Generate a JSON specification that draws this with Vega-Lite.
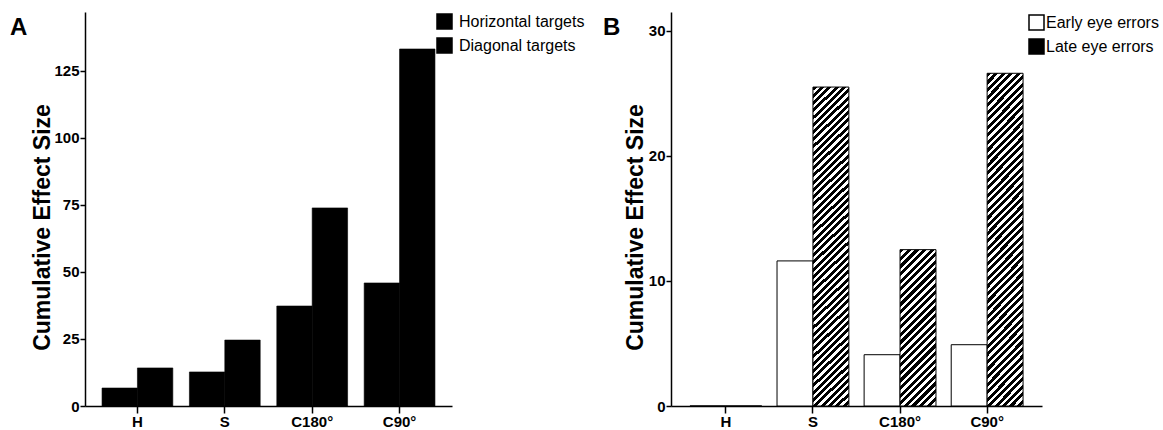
{
  "$schema": "https://vega.github.io/schema/vega-lite/v6.json",
  "padding": {"left": 10, "top": 12, "right": 0, "bottom": 0},
  "bounds": "flush",
  "spacing": 219,
  "resolve": {
    "scale": {"xOffset": "independent", "x": "independent", "y": "independent", "color": "independent", "fill": "independent"},
    "legend": {"color": "independent", "fill": "independent"}
  },
  "config": {
    "view": {"stroke": null},
    "font": "Liberation Sans",
    "axis": {
      "grid": false,
      "domainColor": "#000",
      "domainWidth": 1.5,
      "tickColor": "#000",
      "tickWidth": 1.5,
      "labelColor": "#000",
      "labelFont": "Liberation Sans",
      "labelFontWeight": "bold",
      "labelFontSize": 15,
      "titleColor": "#000",
      "titleFont": "Liberation Sans",
      "titleFontWeight": "bold",
      "titleFontSize": 23
    },
    "legend": {
      "labelFont": "Liberation Sans",
      "labelFontSize": 16,
      "labelColor": "#000",
      "symbolType": "square",
      "symbolSize": 225,
      "padding": 0,
      "rowPadding": 3
    },
    "title": {
      "font": "Liberation Sans",
      "fontSize": 24,
      "fontWeight": "bold",
      "color": "#000",
      "anchor": "start",
      "frame": "group",
      "orient": "top",
      "baseline": "top",
      "offset": -28
    }
  },
  "hconcat": [
    {
      "width": 367,
      "height": 394,
      "title": {"text": "A", "dx": -75},
      "data": {
        "values": [
          {"condition": "H", "target": "Horizontal targets", "value": 6.7},
          {"condition": "H", "target": "Diagonal targets", "value": 14.2},
          {"condition": "S", "target": "Horizontal targets", "value": 12.7},
          {"condition": "S", "target": "Diagonal targets", "value": 24.6},
          {"condition": "C180°", "target": "Horizontal targets", "value": 37.3},
          {"condition": "C180°", "target": "Diagonal targets", "value": 73.9},
          {"condition": "C90°", "target": "Horizontal targets", "value": 45.9},
          {"condition": "C90°", "target": "Diagonal targets", "value": 133.2}
        ]
      },
      "mark": {"type": "bar", "width": {"band": 1}, "stroke": "#000", "strokeWidth": 0.6},
      "encoding": {
        "x": {
          "field": "condition",
          "type": "nominal",
          "sort": ["H", "S", "C180°", "C90°"],
          "scale": {"paddingInner": 0.19, "paddingOuter": 0.195},
          "axis": {"title": null, "labelAngle": 0, "tickSize": 7, "labelPadding": 1}
        },
        "xOffset": {
          "field": "target",
          "type": "nominal",
          "sort": ["Horizontal targets", "Diagonal targets"],
          "scale": {"paddingInner": 0, "paddingOuter": 0}
        },
        "y": {
          "field": "value",
          "type": "quantitative",
          "scale": {"domain": [0, 147], "nice": false},
          "axis": {
            "title": "Cumulative Effect Size",
            "values": [0, 25, 50, 75, 100, 125],
            "tickSize": 5,
            "labelPadding": 1,
            "titlePadding": -1,
            "titleY": 215
          }
        },
        "color": {
          "field": "target",
          "type": "nominal",
          "sort": ["Horizontal targets", "Diagonal targets"],
          "scale": {"range": ["#000", "#000"]},
          "legend": {
            "title": null,
            "orient": "none",
            "legendX": 351,
            "legendY": 1,
            "labelOffset": 6,
            "encode": {
              "symbols": {
                "fill": {"value": "#000"},
                "stroke": {"condition": {"test": "datum.label === 'Horizontal targets'", "value": "#999"}, "value": "#000"},
                "strokeDash": {"condition": {"test": "datum.label === 'Horizontal targets'", "value": [1.5, 1.5]}, "value": [1, 0]},
                "strokeWidth": {"value": 1}
              }
            }
          }
        }
      }
    },
    {
      "width": 371,
      "height": 394,
      "title": {"text": "B", "dx": -68},
      "data": {
        "values": [
          {"condition": "H", "timing": "Early eye errors", "value": 0},
          {"condition": "H", "timing": "Late eye errors", "value": 0},
          {"condition": "S", "timing": "Early eye errors", "value": 11.6},
          {"condition": "S", "timing": "Late eye errors", "value": 25.5},
          {"condition": "C180°", "timing": "Early eye errors", "value": 4.1},
          {"condition": "C180°", "timing": "Late eye errors", "value": 12.5},
          {"condition": "C90°", "timing": "Early eye errors", "value": 4.9},
          {"condition": "C90°", "timing": "Late eye errors", "value": 26.6}
        ]
      },
      "mark": {"type": "bar", "width": {"band": 1}, "stroke": "#000", "strokeWidth": 1},
      "encoding": {
        "x": {
          "field": "condition",
          "type": "nominal",
          "sort": ["H", "S", "C180°", "C90°"],
          "scale": {"paddingInner": 0.175, "paddingOuter": 0.2175},
          "axis": {"title": null, "labelAngle": 0, "tickSize": 7, "labelPadding": 1}
        },
        "xOffset": {
          "field": "timing",
          "type": "nominal",
          "sort": ["Early eye errors", "Late eye errors"],
          "scale": {"paddingInner": 0, "paddingOuter": 0}
        },
        "y": {
          "field": "value",
          "type": "quantitative",
          "scale": {"domain": [0, 31.5], "nice": false},
          "axis": {
            "title": "Cumulative Effect Size",
            "values": [0, 10, 20, 30],
            "tickSize": 5,
            "labelPadding": 1,
            "titlePadding": 1,
            "titleY": 215
          }
        },
        "fill": {
          "field": "timing",
          "type": "nominal",
          "sort": ["Early eye errors", "Late eye errors"],
          "scale": {"range": ["#fff", "#000"]},
          "condition": [
            {
              "test": "datum.timing === 'Late eye errors' && datum.condition === 'C180°'",
              "value": {
                "gradient": "linear", "x1": 0, "y1": 0, "x2": 0.2652, "y2": 1.1546,
                "stops": [
                  {"offset": 0, "color": "#000"}, {"offset": 0.022, "color": "#000"}, {"offset": 0.022, "color": "#fff"}, {"offset": 0.04, "color": "#fff"},
                  {"offset": 0.04, "color": "#000"}, {"offset": 0.062, "color": "#000"}, {"offset": 0.062, "color": "#fff"}, {"offset": 0.08, "color": "#fff"},
                  {"offset": 0.08, "color": "#000"}, {"offset": 0.102, "color": "#000"}, {"offset": 0.102, "color": "#fff"}, {"offset": 0.12, "color": "#fff"},
                  {"offset": 0.12, "color": "#000"}, {"offset": 0.142, "color": "#000"}, {"offset": 0.142, "color": "#fff"}, {"offset": 0.16, "color": "#fff"},
                  {"offset": 0.16, "color": "#000"}, {"offset": 0.182, "color": "#000"}, {"offset": 0.182, "color": "#fff"}, {"offset": 0.2, "color": "#fff"},
                  {"offset": 0.2, "color": "#000"}, {"offset": 0.222, "color": "#000"}, {"offset": 0.222, "color": "#fff"}, {"offset": 0.24, "color": "#fff"},
                  {"offset": 0.24, "color": "#000"}, {"offset": 0.262, "color": "#000"}, {"offset": 0.262, "color": "#fff"}, {"offset": 0.28, "color": "#fff"},
                  {"offset": 0.28, "color": "#000"}, {"offset": 0.302, "color": "#000"}, {"offset": 0.302, "color": "#fff"}, {"offset": 0.32, "color": "#fff"},
                  {"offset": 0.32, "color": "#000"}, {"offset": 0.342, "color": "#000"}, {"offset": 0.342, "color": "#fff"}, {"offset": 0.36, "color": "#fff"},
                  {"offset": 0.36, "color": "#000"}, {"offset": 0.382, "color": "#000"}, {"offset": 0.382, "color": "#fff"}, {"offset": 0.4, "color": "#fff"},
                  {"offset": 0.4, "color": "#000"}, {"offset": 0.422, "color": "#000"}, {"offset": 0.422, "color": "#fff"}, {"offset": 0.44, "color": "#fff"},
                  {"offset": 0.44, "color": "#000"}, {"offset": 0.462, "color": "#000"}, {"offset": 0.462, "color": "#fff"}, {"offset": 0.48, "color": "#fff"},
                  {"offset": 0.48, "color": "#000"}, {"offset": 0.502, "color": "#000"}, {"offset": 0.502, "color": "#fff"}, {"offset": 0.52, "color": "#fff"},
                  {"offset": 0.52, "color": "#000"}, {"offset": 0.542, "color": "#000"}, {"offset": 0.542, "color": "#fff"}, {"offset": 0.56, "color": "#fff"},
                  {"offset": 0.56, "color": "#000"}, {"offset": 0.582, "color": "#000"}, {"offset": 0.582, "color": "#fff"}, {"offset": 0.6, "color": "#fff"},
                  {"offset": 0.6, "color": "#000"}, {"offset": 0.622, "color": "#000"}, {"offset": 0.622, "color": "#fff"}, {"offset": 0.64, "color": "#fff"},
                  {"offset": 0.64, "color": "#000"}, {"offset": 0.662, "color": "#000"}, {"offset": 0.662, "color": "#fff"}, {"offset": 0.68, "color": "#fff"},
                  {"offset": 0.68, "color": "#000"}, {"offset": 0.702, "color": "#000"}, {"offset": 0.702, "color": "#fff"}, {"offset": 0.72, "color": "#fff"},
                  {"offset": 0.72, "color": "#000"}, {"offset": 0.742, "color": "#000"}, {"offset": 0.742, "color": "#fff"}, {"offset": 0.76, "color": "#fff"},
                  {"offset": 0.76, "color": "#000"}, {"offset": 0.782, "color": "#000"}, {"offset": 0.782, "color": "#fff"}, {"offset": 0.8, "color": "#fff"},
                  {"offset": 0.8, "color": "#000"}, {"offset": 0.822, "color": "#000"}, {"offset": 0.822, "color": "#fff"}, {"offset": 0.84, "color": "#fff"},
                  {"offset": 0.84, "color": "#000"}, {"offset": 0.862, "color": "#000"}, {"offset": 0.862, "color": "#fff"}, {"offset": 0.88, "color": "#fff"},
                  {"offset": 0.88, "color": "#000"}, {"offset": 0.902, "color": "#000"}, {"offset": 0.902, "color": "#fff"}, {"offset": 0.92, "color": "#fff"},
                  {"offset": 0.92, "color": "#000"}, {"offset": 0.942, "color": "#000"}, {"offset": 0.942, "color": "#fff"}, {"offset": 0.96, "color": "#fff"},
                  {"offset": 0.96, "color": "#000"}, {"offset": 0.982, "color": "#000"}, {"offset": 0.982, "color": "#fff"}, {"offset": 1, "color": "#fff"}
                ]
              }
            },
            {
              "test": "datum.timing === 'Late eye errors' && datum.value > 0",
              "value": {
                "gradient": "linear", "x1": 0, "y1": 0, "x2": 0.1235, "y2": 1.1215,
                "stops": [
                  {"offset": 0, "color": "#000"}, {"offset": 0.011, "color": "#000"}, {"offset": 0.011, "color": "#fff"}, {"offset": 0.02, "color": "#fff"},
                  {"offset": 0.02, "color": "#000"}, {"offset": 0.031, "color": "#000"}, {"offset": 0.031, "color": "#fff"}, {"offset": 0.04, "color": "#fff"},
                  {"offset": 0.04, "color": "#000"}, {"offset": 0.051, "color": "#000"}, {"offset": 0.051, "color": "#fff"}, {"offset": 0.06, "color": "#fff"},
                  {"offset": 0.06, "color": "#000"}, {"offset": 0.071, "color": "#000"}, {"offset": 0.071, "color": "#fff"}, {"offset": 0.08, "color": "#fff"},
                  {"offset": 0.08, "color": "#000"}, {"offset": 0.091, "color": "#000"}, {"offset": 0.091, "color": "#fff"}, {"offset": 0.1, "color": "#fff"},
                  {"offset": 0.1, "color": "#000"}, {"offset": 0.111, "color": "#000"}, {"offset": 0.111, "color": "#fff"}, {"offset": 0.12, "color": "#fff"},
                  {"offset": 0.12, "color": "#000"}, {"offset": 0.131, "color": "#000"}, {"offset": 0.131, "color": "#fff"}, {"offset": 0.14, "color": "#fff"},
                  {"offset": 0.14, "color": "#000"}, {"offset": 0.151, "color": "#000"}, {"offset": 0.151, "color": "#fff"}, {"offset": 0.16, "color": "#fff"},
                  {"offset": 0.16, "color": "#000"}, {"offset": 0.171, "color": "#000"}, {"offset": 0.171, "color": "#fff"}, {"offset": 0.18, "color": "#fff"},
                  {"offset": 0.18, "color": "#000"}, {"offset": 0.191, "color": "#000"}, {"offset": 0.191, "color": "#fff"}, {"offset": 0.2, "color": "#fff"},
                  {"offset": 0.2, "color": "#000"}, {"offset": 0.211, "color": "#000"}, {"offset": 0.211, "color": "#fff"}, {"offset": 0.22, "color": "#fff"},
                  {"offset": 0.22, "color": "#000"}, {"offset": 0.231, "color": "#000"}, {"offset": 0.231, "color": "#fff"}, {"offset": 0.24, "color": "#fff"},
                  {"offset": 0.24, "color": "#000"}, {"offset": 0.251, "color": "#000"}, {"offset": 0.251, "color": "#fff"}, {"offset": 0.26, "color": "#fff"},
                  {"offset": 0.26, "color": "#000"}, {"offset": 0.271, "color": "#000"}, {"offset": 0.271, "color": "#fff"}, {"offset": 0.28, "color": "#fff"},
                  {"offset": 0.28, "color": "#000"}, {"offset": 0.291, "color": "#000"}, {"offset": 0.291, "color": "#fff"}, {"offset": 0.3, "color": "#fff"},
                  {"offset": 0.3, "color": "#000"}, {"offset": 0.311, "color": "#000"}, {"offset": 0.311, "color": "#fff"}, {"offset": 0.32, "color": "#fff"},
                  {"offset": 0.32, "color": "#000"}, {"offset": 0.331, "color": "#000"}, {"offset": 0.331, "color": "#fff"}, {"offset": 0.34, "color": "#fff"},
                  {"offset": 0.34, "color": "#000"}, {"offset": 0.351, "color": "#000"}, {"offset": 0.351, "color": "#fff"}, {"offset": 0.36, "color": "#fff"},
                  {"offset": 0.36, "color": "#000"}, {"offset": 0.371, "color": "#000"}, {"offset": 0.371, "color": "#fff"}, {"offset": 0.38, "color": "#fff"},
                  {"offset": 0.38, "color": "#000"}, {"offset": 0.391, "color": "#000"}, {"offset": 0.391, "color": "#fff"}, {"offset": 0.4, "color": "#fff"},
                  {"offset": 0.4, "color": "#000"}, {"offset": 0.411, "color": "#000"}, {"offset": 0.411, "color": "#fff"}, {"offset": 0.42, "color": "#fff"},
                  {"offset": 0.42, "color": "#000"}, {"offset": 0.431, "color": "#000"}, {"offset": 0.431, "color": "#fff"}, {"offset": 0.44, "color": "#fff"},
                  {"offset": 0.44, "color": "#000"}, {"offset": 0.451, "color": "#000"}, {"offset": 0.451, "color": "#fff"}, {"offset": 0.46, "color": "#fff"},
                  {"offset": 0.46, "color": "#000"}, {"offset": 0.471, "color": "#000"}, {"offset": 0.471, "color": "#fff"}, {"offset": 0.48, "color": "#fff"},
                  {"offset": 0.48, "color": "#000"}, {"offset": 0.491, "color": "#000"}, {"offset": 0.491, "color": "#fff"}, {"offset": 0.5, "color": "#fff"},
                  {"offset": 0.5, "color": "#000"}, {"offset": 0.511, "color": "#000"}, {"offset": 0.511, "color": "#fff"}, {"offset": 0.52, "color": "#fff"},
                  {"offset": 0.52, "color": "#000"}, {"offset": 0.531, "color": "#000"}, {"offset": 0.531, "color": "#fff"}, {"offset": 0.54, "color": "#fff"},
                  {"offset": 0.54, "color": "#000"}, {"offset": 0.551, "color": "#000"}, {"offset": 0.551, "color": "#fff"}, {"offset": 0.56, "color": "#fff"},
                  {"offset": 0.56, "color": "#000"}, {"offset": 0.571, "color": "#000"}, {"offset": 0.571, "color": "#fff"}, {"offset": 0.58, "color": "#fff"},
                  {"offset": 0.58, "color": "#000"}, {"offset": 0.591, "color": "#000"}, {"offset": 0.591, "color": "#fff"}, {"offset": 0.6, "color": "#fff"},
                  {"offset": 0.6, "color": "#000"}, {"offset": 0.611, "color": "#000"}, {"offset": 0.611, "color": "#fff"}, {"offset": 0.62, "color": "#fff"},
                  {"offset": 0.62, "color": "#000"}, {"offset": 0.631, "color": "#000"}, {"offset": 0.631, "color": "#fff"}, {"offset": 0.64, "color": "#fff"},
                  {"offset": 0.64, "color": "#000"}, {"offset": 0.651, "color": "#000"}, {"offset": 0.651, "color": "#fff"}, {"offset": 0.66, "color": "#fff"},
                  {"offset": 0.66, "color": "#000"}, {"offset": 0.671, "color": "#000"}, {"offset": 0.671, "color": "#fff"}, {"offset": 0.68, "color": "#fff"},
                  {"offset": 0.68, "color": "#000"}, {"offset": 0.691, "color": "#000"}, {"offset": 0.691, "color": "#fff"}, {"offset": 0.7, "color": "#fff"},
                  {"offset": 0.7, "color": "#000"}, {"offset": 0.711, "color": "#000"}, {"offset": 0.711, "color": "#fff"}, {"offset": 0.72, "color": "#fff"},
                  {"offset": 0.72, "color": "#000"}, {"offset": 0.731, "color": "#000"}, {"offset": 0.731, "color": "#fff"}, {"offset": 0.74, "color": "#fff"},
                  {"offset": 0.74, "color": "#000"}, {"offset": 0.751, "color": "#000"}, {"offset": 0.751, "color": "#fff"}, {"offset": 0.76, "color": "#fff"},
                  {"offset": 0.76, "color": "#000"}, {"offset": 0.771, "color": "#000"}, {"offset": 0.771, "color": "#fff"}, {"offset": 0.78, "color": "#fff"},
                  {"offset": 0.78, "color": "#000"}, {"offset": 0.791, "color": "#000"}, {"offset": 0.791, "color": "#fff"}, {"offset": 0.8, "color": "#fff"},
                  {"offset": 0.8, "color": "#000"}, {"offset": 0.811, "color": "#000"}, {"offset": 0.811, "color": "#fff"}, {"offset": 0.82, "color": "#fff"},
                  {"offset": 0.82, "color": "#000"}, {"offset": 0.831, "color": "#000"}, {"offset": 0.831, "color": "#fff"}, {"offset": 0.84, "color": "#fff"},
                  {"offset": 0.84, "color": "#000"}, {"offset": 0.851, "color": "#000"}, {"offset": 0.851, "color": "#fff"}, {"offset": 0.86, "color": "#fff"},
                  {"offset": 0.86, "color": "#000"}, {"offset": 0.871, "color": "#000"}, {"offset": 0.871, "color": "#fff"}, {"offset": 0.88, "color": "#fff"},
                  {"offset": 0.88, "color": "#000"}, {"offset": 0.891, "color": "#000"}, {"offset": 0.891, "color": "#fff"}, {"offset": 0.9, "color": "#fff"},
                  {"offset": 0.9, "color": "#000"}, {"offset": 0.911, "color": "#000"}, {"offset": 0.911, "color": "#fff"}, {"offset": 0.92, "color": "#fff"},
                  {"offset": 0.92, "color": "#000"}, {"offset": 0.931, "color": "#000"}, {"offset": 0.931, "color": "#fff"}, {"offset": 0.94, "color": "#fff"},
                  {"offset": 0.94, "color": "#000"}, {"offset": 0.951, "color": "#000"}, {"offset": 0.951, "color": "#fff"}, {"offset": 0.96, "color": "#fff"},
                  {"offset": 0.96, "color": "#000"}, {"offset": 0.971, "color": "#000"}, {"offset": 0.971, "color": "#fff"}, {"offset": 0.98, "color": "#fff"},
                  {"offset": 0.98, "color": "#000"}, {"offset": 0.991, "color": "#000"}, {"offset": 0.991, "color": "#fff"}, {"offset": 1, "color": "#fff"}
                ]
              }
            }
          ],
          "legend": {
            "title": null,
            "orient": "none",
            "legendX": 357,
            "legendY": 2,
            "labelOffset": 1,
            "encode": {
              "symbols": {
                "fill": {
                  "condition": {
                    "test": "datum.label === 'Late eye errors'",
                    "value": {
                      "gradient": "linear", "x1": 0, "y1": 0, "x2": 1, "y2": 1,
                      "stops": [
                        {"offset": 0, "color": "#000"}, {"offset": 0.42, "color": "#000"}, {"offset": 0.42, "color": "#fff"},
                        {"offset": 0.58, "color": "#fff"}, {"offset": 0.58, "color": "#000"}, {"offset": 1, "color": "#000"}
                      ]
                    }
                  },
                  "value": "#fff"
                },
                "stroke": {"value": "#000"},
                "strokeWidth": {"value": 1.2}
              }
            }
          }
        }
      }
    }
  ]
}
